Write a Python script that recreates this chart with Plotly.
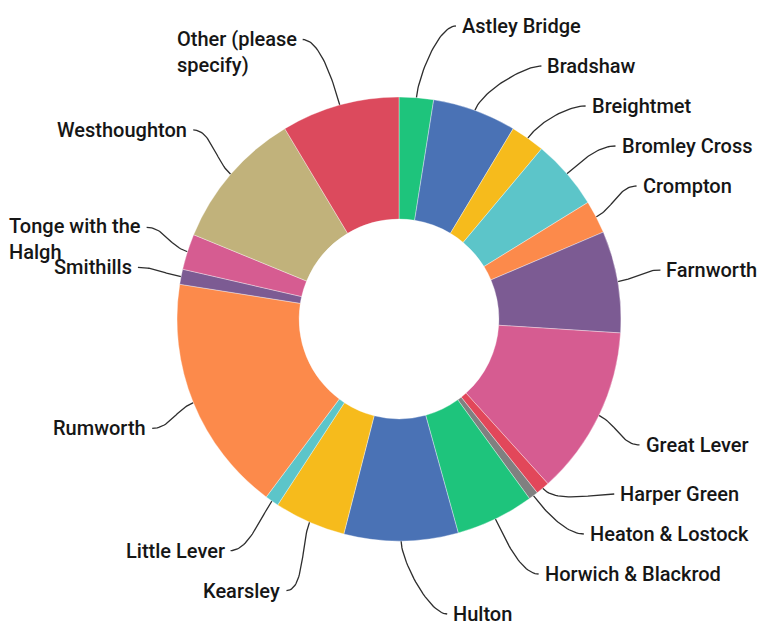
import math
import plotly.graph_objects as go

# ---------------- data ----------------
labels = ["Astley Bridge", "Bradshaw", "Breightmet", "Bromley Cross", "Crompton",
          "Farnworth", "Great Lever", "Harper Green", "Heaton & Lostock",
          "Horwich & Blackrod", "Hulton", "Kearsley", "Little Lever", "Rumworth",
          "Smithills", "Tonge with the Halgh", "Westhoughton", "Other (please specify)"]
display_labels = ["Astley Bridge", "Bradshaw", "Breightmet", "Bromley Cross", "Crompton",
                  "Farnworth", "Great Lever", "Harper Green", "Heaton & Lostock",
                  "Horwich & Blackrod", "Hulton", "Kearsley", "Little Lever", "Rumworth",
                  "Smithills", "Tonge with the<br>Halgh", "Westhoughton", "Other (please<br>specify)"]
values = [2.5, 6.1, 2.5, 5.1, 2.4, 7.4, 12.3, 1.0, 0.7, 5.7, 8.3, 5.2, 1.0, 17.3,
          1.1, 2.6, 10.2, 8.6]
colors = ["#1ec47c", "#4a72b5", "#f6bb1c", "#5cc5c9", "#fc8a4b", "#7c5b93",
          "#d65c91", "#e2475a", "#808080", "#1ec47c", "#4a72b5", "#f6bb1c",
          "#5cc5c9", "#fc8a4b", "#7c5b93", "#d65c91", "#c1b27b", "#dc4a5d"]

# ---------------- geometry / style ----------------
W, H = 768, 627
CX, CY, R = 391, 311, 222
HOLE = 0.45
RL = 290          # natural label radius
GAP = 40          # min vertical spacing between labels
LO, HI = 18, 606  # label y bounds
RX, RY = 265, 300 # ellipse for label x-position
FS = 20
FONT = "Roboto, Liberation Sans, sans-serif"
TXT = "#161616"
LINE = "#2e2e2e"

total = sum(values)
mids = []
cum = 0.0
for v in values:
    mids.append((cum + v / 2) / total * 360.0)
    cum += v

def place(idx, nat):
    order = sorted(idx, key=lambda i: nat[i])
    clusters = []

    def positions(c):
        n = len(c)
        center = sum(nat[i] for i in c) / n
        start = center - (n - 1) * GAP / 2
        start = max(LO, min(start, HI - (n - 1) * GAP))
        return [start + k * GAP for k in range(n)]

    for i in order:
        clusters.append([i])
        while len(clusters) > 1:
            p = positions(clusters[-2])
            q = positions(clusters[-1])
            if p[-1] + GAP > q[0]:
                m = clusters.pop()
                clusters[-1].extend(m)
            else:
                break
    out = {}
    for c in clusters:
        for i, y in zip(c, positions(c)):
            out[i] = y
    return out

nat = [CY - RL * math.cos(math.radians(a)) for a in mids]
right = [i for i, a in enumerate(mids) if math.sin(math.radians(a)) >= 0]
left = [i for i, a in enumerate(mids) if math.sin(math.radians(a)) < 0]
ly = {}
ly.update(place(right, nat))
ly.update(place(left, nat))

fig = go.Figure()

fig.add_trace(go.Pie(
    labels=labels, values=values, sort=False, direction="clockwise", rotation=0,
    hole=HOLE, textinfo="none", showlegend=False,
    marker=dict(colors=colors, line=dict(color="rgba(255,255,255,0.6)", width=0.6)),
    domain=dict(x=[(CX - R) / W, (CX + R) / W], y=[1 - (CY + R) / H, 1 - (CY - R) / H]),
))

annotations = []
for i, a in enumerate(mids):
    t = math.radians(a)
    s = 1 if i in right else -1
    ux, uy = math.sin(t), -math.cos(t)
    p0 = (CX + R * ux, CY + R * uy)
    p1 = (p0[0] + 20 * ux, p0[1] + 20 * uy)
    y = ly[i]
    dy = (y - CY) / RY
    ex = max(RX * math.sqrt(max(0.0, 1 - dy * dy)), abs(p0[0] - CX) + 12)
    p3 = (CX + s * ex, y)
    p2 = (p3[0] - s * 18, y)
    xs, ys = [], []
    for k in range(31):
        u = k / 30
        b = [(1 - u) ** 3, 3 * (1 - u) ** 2 * u, 3 * (1 - u) * u ** 2, u ** 3]
        xs.append(b[0] * p0[0] + b[1] * p1[0] + b[2] * p2[0] + b[3] * p3[0])
        ys.append(b[0] * p0[1] + b[1] * p1[1] + b[2] * p2[1] + b[3] * p3[1])
    fig.add_trace(go.Scatter(x=xs, y=ys, mode="lines", hoverinfo="skip",
                             line=dict(color=LINE, width=1.3), showlegend=False))
    multi = "<br>" in display_labels[i]
    annotations.append(dict(
        x=p3[0] + s * 4, y=(y - FS * 0.75) if multi else y, xref="x", yref="y",
        text=display_labels[i], showarrow=False,
        xanchor="left" if s > 0 else "right",
        yanchor="top" if multi else "middle", align="left",
        font=dict(family=FONT, size=FS, color=TXT, weight=500),
    ))

fig.update_layout(
    width=W, height=H, margin=dict(l=0, r=0, t=0, b=0),
    paper_bgcolor="white", plot_bgcolor="white",
    xaxis=dict(range=[0, W], visible=False, fixedrange=True),
    yaxis=dict(range=[H, 0], visible=False, fixedrange=True),
    annotations=annotations, showlegend=False,
)

fig.write_html("out.html")
